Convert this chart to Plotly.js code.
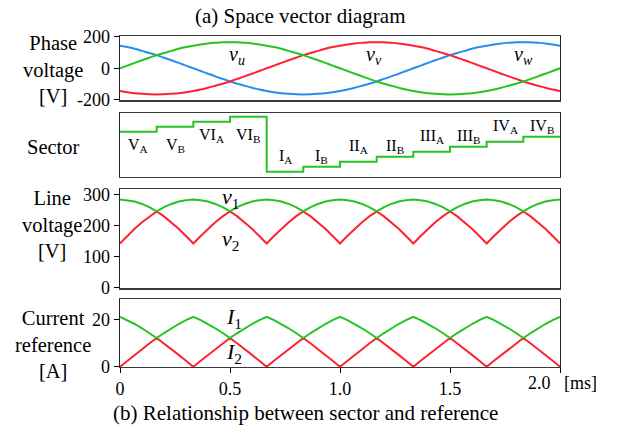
<!DOCTYPE html>
<html>
<head>
<meta charset="utf-8">
<script src="https://cdn.plot.ly/plotly-3.0.1.min.js"></script>
<style>
  html, body { margin: 0; padding: 0; background: #fff; }
  #chart { width: 622px; height: 432px; }
</style>
</head>
<body>
<div id="chart"></div>
<script>
// Sampling grid of all waveforms: 0 .. 2.0 ms, 1/30 ms apart (61 samples)
const sampleStartMs = 0;
const sampleStepMs = 1 / 30;

// Phase voltages [V]
const phaseVu = [0, 17, 34, 51, 67, 83, 97, 110, 123, 134, 143, 151, 157, 161, 164, 165,
  164, 161, 157, 151, 143, 134, 123, 110, 97, 83, 67, 51, 34, 17, 0,
  -17, -34, -51, -67, -83, -97, -110, -123, -134, -143, -151, -157, -161, -164, -165,
  -164, -161, -157, -151, -143, -134, -123, -110, -97, -83, -67, -51, -34, -17, 0];
const phaseVv = [-143, -151, -157, -161, -164, -165,
  -164, -161, -157, -151, -143, -134, -123, -110, -97, -83, -67, -51, -34, -17, 0,
  17, 34, 51, 67, 83, 97, 110, 123, 134, 143, 151, 157, 161, 164, 165,
  164, 161, 157, 151, 143, 134, 123, 110, 97, 83, 67, 51, 34, 17, 0,
  -17, -34, -51, -67, -83, -97, -110, -123, -134, -143];
const phaseVw = [143, 134, 123, 110, 97, 83, 67, 51, 34, 17, 0,
  -17, -34, -51, -67, -83, -97, -110, -123, -134, -143, -151, -157, -161, -164, -165,
  -164, -161, -157, -151, -143, -134, -123, -110, -97, -83, -67, -51, -34, -17, 0,
  17, 34, 51, 67, 83, 97, 110, 123, 134, 143, 151, 157, 161, 164, 165, 164, 161, 157, 151, 143];

// Sector sequence: boundaries [ms], level of each sector, label of each sector
const sectorTimes = [0, 0.1667, 0.3333, 0.5, 0.6667, 0.8333, 1.0, 1.1667, 1.3333, 1.5, 1.6667, 1.8333, 2.0];
const sectorLevels = [9, 10, 11, 12, 1, 2, 3, 4, 5, 6, 7, 8, 8];
const sectorNames = ['V<sub>A</sub>', 'V<sub>B</sub>', 'VI<sub>A</sub>', 'VI<sub>B</sub>',
  'I<sub>A</sub>', 'I<sub>B</sub>', 'II<sub>A</sub>', 'II<sub>B</sub>',
  'III<sub>A</sub>', 'III<sub>B</sub>', 'IV<sub>A</sub>', 'IV<sub>B</sub>'];

// Line voltages [V]
const lineV1 = [283, 281, 277, 269, 259, 245, 259, 269, 277, 281,
  283, 281, 277, 269, 259, 245, 259, 269, 277, 281,
  283, 281, 277, 269, 259, 245, 259, 269, 277, 281,
  283, 281, 277, 269, 259, 245, 259, 269, 277, 281,
  283, 281, 277, 269, 259, 245, 259, 269, 277, 281,
  283, 281, 277, 269, 259, 245, 259, 269, 277, 281, 283];
const lineV2 = [142, 166, 189, 210, 229, 245, 229, 210, 189, 166,
  142, 166, 189, 210, 229, 245, 229, 210, 189, 166,
  142, 166, 189, 210, 229, 245, 229, 210, 189, 166,
  142, 166, 189, 210, 229, 245, 229, 210, 189, 166,
  142, 166, 189, 210, 229, 245, 229, 210, 189, 166,
  142, 166, 189, 210, 229, 245, 229, 210, 189, 166, 142];

// Current references [A]
const currentI1 = [21.0, 19.6, 18.0, 16.2, 14.2, 12.1, 14.2, 16.2, 18.0, 19.6,
  21.0, 19.6, 18.0, 16.2, 14.2, 12.1, 14.2, 16.2, 18.0, 19.6,
  21.0, 19.6, 18.0, 16.2, 14.2, 12.1, 14.2, 16.2, 18.0, 19.6,
  21.0, 19.6, 18.0, 16.2, 14.2, 12.1, 14.2, 16.2, 18.0, 19.6,
  21.0, 19.6, 18.0, 16.2, 14.2, 12.1, 14.2, 16.2, 18.0, 19.6,
  21.0, 19.6, 18.0, 16.2, 14.2, 12.1, 14.2, 16.2, 18.0, 19.6, 21.0];
const currentI2 = [0, 2.5, 5.0, 7.5, 9.8, 12.1, 9.8, 7.5, 5.0, 2.5,
  0, 2.5, 5.0, 7.5, 9.8, 12.1, 9.8, 7.5, 5.0, 2.5,
  0, 2.5, 5.0, 7.5, 9.8, 12.1, 9.8, 7.5, 5.0, 2.5,
  0, 2.5, 5.0, 7.5, 9.8, 12.1, 9.8, 7.5, 5.0, 2.5,
  0, 2.5, 5.0, 7.5, 9.8, 12.1, 9.8, 7.5, 5.0, 2.5,
  0, 2.5, 5.0, 7.5, 9.8, 12.1, 9.8, 7.5, 5.0, 2.5, 0];

// Tick labels
const timeTickVals = [0, 0.5, 1.0, 1.5, 2.0];
const timeTickText = ['0', '0.5', '1.0', '1.5', '2.0'];
const phaseTickVals = [-200, 0, 200];
const phaseTickText = ['-200', '0', '200'];
const lineTickVals = [0, 100, 200, 300];
const lineTickText = ['0', '100', '200', '300'];
const currentTickVals = [0, 20];
const currentTickText = ['0', '20'];

const GREEN = '#25c425';
const RED = '#ff2233';
const BLUE = '#2a8cf0';
const SERIF = 'Liberation Serif';
const W = 622, H = 432;

function wave(y, color, xa, ya, shape) {
  return {
    type: 'scatter', mode: 'lines', x0: sampleStartMs, dx: sampleStepMs, y: y,
    xaxis: xa, yaxis: ya, line: { color: color, width: 2, shape: shape || 'linear' },
    hoverinfo: 'skip', showlegend: false
  };
}

const traces = [
  wave(phaseVw, BLUE, 'x', 'y', 'spline'),
  wave(phaseVv, RED, 'x', 'y', 'spline'),
  wave(phaseVu, GREEN, 'x', 'y', 'spline'),
  {
    type: 'scatter', mode: 'lines', x: sectorTimes, y: sectorLevels,
    xaxis: 'x2', yaxis: 'y2', line: { color: GREEN, width: 2, shape: 'hv' },
    hoverinfo: 'skip', showlegend: false
  },
  wave(lineV2, RED, 'x3', 'y3'),
  wave(lineV1, GREEN, 'x3', 'y3'),
  wave(currentI2, RED, 'x4', 'y4'),
  wave(currentI1, GREEN, 'x4', 'y4')
];

// pixel box -> paper domain helpers (margins are zero)
const px = v => v / W;
const py = v => 1 - v / H;

const xDomain = [px(120), px(560)];
const tickFont = { family: SERIF, size: 18, color: '#000' };

// the last time label sits left of its tick to leave room for the unit
const lastTick = timeTickText.length - 1;
const bottomTickText = timeTickText.map((t, i) => (i === lastTick ? ' ' : t));

function xAxis(anchor, showTicks) {
  return {
    domain: xDomain, anchor: anchor, range: [0, 2.0], showgrid: false, zeroline: false,
    showline: true, mirror: true, linecolor: '#3a3a3a', linewidth: 1.3,
    ticks: showTicks ? 'outside' : '', ticklen: 5, tickcolor: '#000',
    tickvals: showTicks ? timeTickVals : [], ticktext: showTicks ? bottomTickText : [],
    showticklabels: !!showTicks, tickfont: tickFont
  };
}
function yAxis(anchor, top, bottom, range, vals, text) {
  return {
    domain: [py(bottom), py(top)], anchor: anchor, range: range, showgrid: false, zeroline: false,
    showline: true, mirror: true, linecolor: '#222', linewidth: 1.3,
    ticks: vals.length ? 'outside' : '', ticklen: 5, tickcolor: '#000',
    tickvals: vals, ticktext: text, showticklabels: vals.length > 0, tickfont: tickFont
  };
}

const annotations = [];
function paperText(text, x, y, size, extra) {
  annotations.push(Object.assign({
    xref: 'paper', yref: 'paper', x: px(x), y: py(y), text: text, showarrow: false,
    xanchor: 'center', yanchor: 'middle', font: { family: SERIF, size: size, color: '#000' }
  }, extra || {}));
}
function dataText(text, xa, ya, x, y, size) {
  annotations.push({
    xref: xa, yref: ya, x: x, y: y, text: text, showarrow: false,
    xanchor: 'center', yanchor: 'middle', font: { family: SERIF, size: size, color: '#000' }
  });
}

paperText('(a) Space vector diagram', 300, 16, 21);
paperText('(b) Relationship between sector and reference', 305, 413, 21);
paperText(timeTickText[lastTick], 553, 383, 18, { xanchor: 'right' });
paperText('[ms]', 580, 383, 18);
paperText('Phase<br>voltage<br>[V]', 53, 70, 20.5);
paperText('Sector', 53, 147, 20.5);
paperText('Line<br>voltage<br>[V]', 52, 224, 20.5);
paperText('Current<br>reference<br>[A]', 53, 344, 20.5);

dataText('<i>v<sub>u</sub></i>', 'x', 'y', 0.53, 80, 20);
dataText('<i>v<sub>v</sub></i>', 'x', 'y', 1.155, 80, 20);
dataText('<i>v<sub>w</sub></i>', 'x', 'y', 1.836, 80, 20);
dataText('<i>v</i><sub>1</sub>', 'x3', 'y3', 0.5, 288, 22);
dataText('<i>v</i><sub>2</sub>', 'x3', 'y3', 0.5, 153, 22);
dataText('<i>I</i><sub>1</sub>', 'x4', 'y4', 0.52, 20.5, 22);
dataText('<i>I</i><sub>2</sub>', 'x4', 'y4', 0.52, 5.8, 22);

// sector names: centred in each sector, placed per A/B pair
for (let i = 0; i < sectorNames.length; i++) {
  const mid = (sectorTimes[i] + sectorTimes[i + 1]) / 2;
  const pairLevel = sectorLevels[i - (i % 2)];
  const below = pairLevel >= 9;
  annotations.push({
    xref: 'x2', yref: 'y2', x: mid, y: pairLevel, yshift: below ? -14 : 15,
    text: sectorNames[i], showarrow: false, xanchor: 'center', yanchor: 'middle',
    font: { family: SERIF, size: 16, color: '#000' }
  });
}

const layout = {
  width: W, height: H,
  margin: { l: 0, r: 0, t: 0, b: 0, pad: 0 },
  paper_bgcolor: '#fff', plot_bgcolor: '#fff',
  showlegend: false,
  font: { family: SERIF, color: '#000' },
  xaxis: xAxis('y', false),
  xaxis2: xAxis('y2', false),
  xaxis3: xAxis('y3', false),
  xaxis4: xAxis('y4', true),
  yaxis: yAxis('x', 36, 100.3, [-202, 204], phaseTickVals, phaseTickText),
  yaxis2: yAxis('x2', 113.3, 177, [-0.06, 12.68], [], []),
  yaxis3: yAxis('x3', 189.3, 288.3, [-2, 316], lineTickVals, lineTickText),
  yaxis4: yAxis('x4', 299.3, 367, [-0.1, 28.4], currentTickVals, currentTickText),
  annotations: annotations
};

Plotly.newPlot('chart', traces, layout, { displayModeBar: false, staticPlot: true });
</script>
</body>
</html>
